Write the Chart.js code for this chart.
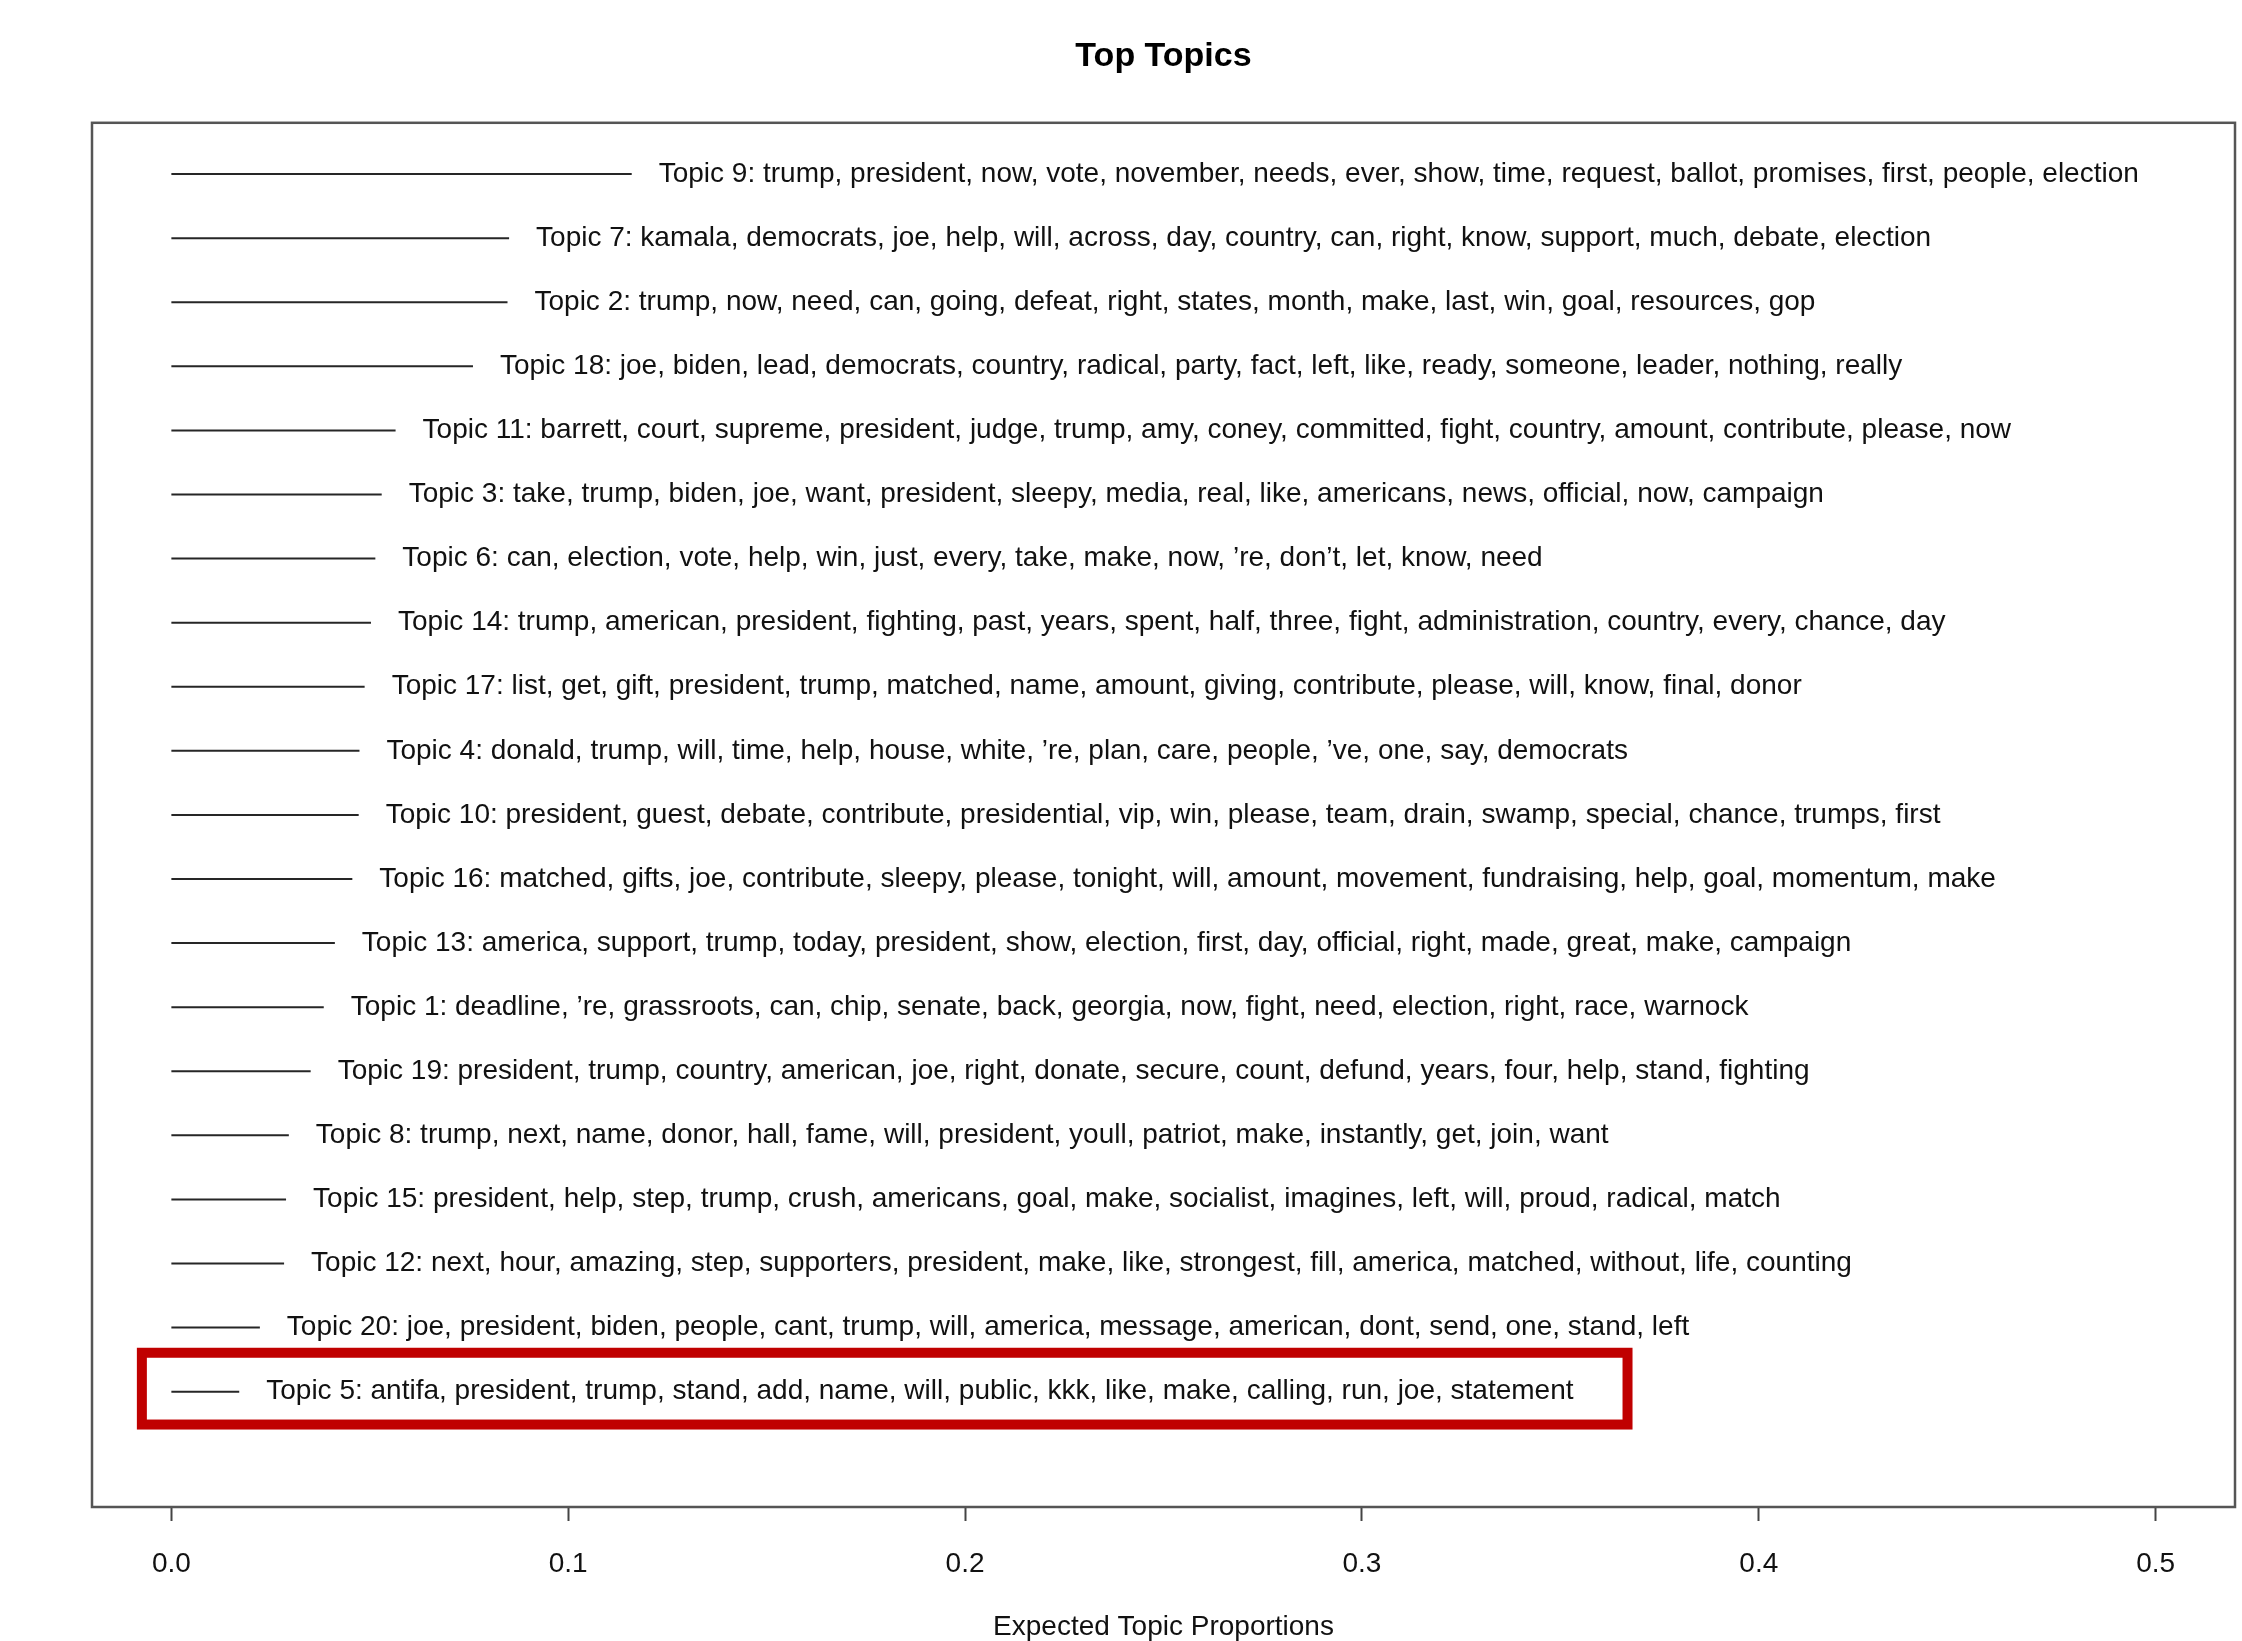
<!DOCTYPE html>
<html>
<head>
<meta charset="utf-8">
<title>Top Topics</title>
<script src="https://cdn.jsdelivr.net/npm/chart.js@4.4.1/dist/chart.umd.min.js"></script>
<style>
  html, body { margin: 0; padding: 0; background: #ffffff; }
  #wrap { width: 2242px; height: 1641px; position: relative; }
</style>
</head>
<body>
<div id="wrap"><canvas id="chart" width="2242" height="1641"></canvas></div>
<script>
// Topics ordered from highest to lowest expected proportion
const topicIds = [9, 7, 2, 18, 11, 3, 6, 14, 17, 4, 10, 16, 13, 1, 19, 8, 15, 12, 20, 5];

const topicWords = [
  "trump, president, now, vote, november, needs, ever, show, time, request, ballot, promises, first, people, election",
  "kamala, democrats, joe, help, will, across, day, country, can, right, know, support, much, debate, election",
  "trump, now, need, can, going, defeat, right, states, month, make, last, win, goal, resources, gop",
  "joe, biden, lead, democrats, country, radical, party, fact, left, like, ready, someone, leader, nothing, really",
  "barrett, court, supreme, president, judge, trump, amy, coney, committed, fight, country, amount, contribute, please, now",
  "take, trump, biden, joe, want, president, sleepy, media, real, like, americans, news, official, now, campaign",
  "can, election, vote, help, win, just, every, take, make, now, \u2019re, don\u2019t, let, know, need",
  "trump, american, president, fighting, past, years, spent, half, three, fight, administration, country, every, chance, day",
  "list, get, gift, president, trump, matched, name, amount, giving, contribute, please, will, know, final, donor",
  "donald, trump, will, time, help, house, white, \u2019re, plan, care, people, \u2019ve, one, say, democrats",
  "president, guest, debate, contribute, presidential, vip, win, please, team, drain, swamp, special, chance, trumps, first",
  "matched, gifts, joe, contribute, sleepy, please, tonight, will, amount, movement, fundraising, help, goal, momentum, make",
  "america, support, trump, today, president, show, election, first, day, official, right, made, great, make, campaign",
  "deadline, \u2019re, grassroots, can, chip, senate, back, georgia, now, fight, need, election, right, race, warnock",
  "president, trump, country, american, joe, right, donate, secure, count, defund, years, four, help, stand, fighting",
  "trump, next, name, donor, hall, fame, will, president, youll, patriot, make, instantly, get, join, want",
  "president, help, step, trump, crush, americans, goal, make, socialist, imagines, left, will, proud, radical, match",
  "next, hour, amazing, step, supporters, president, make, like, strongest, fill, america, matched, without, life, counting",
  "joe, president, biden, people, cant, trump, will, america, message, american, dont, send, one, stand, left",
  "antifa, president, trump, stand, add, name, will, public, kkk, like, make, calling, run, joe, statement"
];

const proportions = [0.1160, 0.0851, 0.0847, 0.0760, 0.0565, 0.0530, 0.0514, 0.0503, 0.0487, 0.0474,
                     0.0472, 0.0456, 0.0412, 0.0384, 0.0351, 0.0296, 0.0289, 0.0284, 0.0223, 0.0171];

const xTicks = [0.0, 0.1, 0.2, 0.3, 0.4, 0.5];
const highlightedTopic = 5;

const FONT = "'Liberation Sans', Arial, Helvetica, sans-serif";
const n = topicIds.length;
// vertical position: first topic at the top (n), last at the bottom (1)
const rowOf = i => n - i;

const datasets = proportions.map((v, i) => ({
  label: 'Topic ' + topicIds[i],
  data: [{ x: 0, y: rowOf(i) }, { x: v, y: rowOf(i) }],
  showLine: true,
  borderColor: '#262626',
  borderWidth: 2,
  pointRadius: 0,
  pointHoverRadius: 0,
  fill: false
}));

// labels to the right of each segment, a box around the plot region, and the highlight frame
const topicLabels = {
  id: 'topicLabels',
  afterDatasetsDraw(chart) {
    const { ctx, chartArea, scales: { x, y } } = chart;
    ctx.save();
    ctx.font = '28px ' + FONT;
    ctx.fillStyle = '#111111';
    ctx.textAlign = 'left';
    ctx.textBaseline = 'middle';
    const gap = 27;
    let hl = null;
    proportions.forEach((v, i) => {
      const px = x.getPixelForValue(v) + gap;
      const py = y.getPixelForValue(rowOf(i));
      const txt = 'Topic ' + topicIds[i] + ': ' + topicWords[i];
      ctx.fillText(txt, px, py);
      if (topicIds[i] === highlightedTopic) {
        hl = { end: px + ctx.measureText(txt).width, py };
      }
    });
    // plot frame
    ctx.strokeStyle = '#555555';
    ctx.lineWidth = 2.5;
    ctx.strokeRect(chartArea.left, chartArea.top, chartArea.right - chartArea.left, chartArea.bottom - chartArea.top);
    // highlight frame
    if (hl) {
      const left = x.getPixelForValue(0) - 29.5;
      const right = hl.end + 54;
      const unit = Math.abs(y.getPixelForValue(1) - y.getPixelForValue(2));
      const half = unit * 0.56;
      ctx.strokeStyle = '#c00000';
      ctx.lineWidth = 10;
      ctx.strokeRect(left, hl.py - half - 3, right - left, 2 * half);
    }
    ctx.restore();
  }
};

new Chart(document.getElementById('chart'), {
  type: 'scatter',
  data: { datasets },
  options: {
    responsive: false,
    animation: false,
    events: [],
    layout: { padding: { left: 92, right: 7, top: 0, bottom: 0 } },
    plugins: {
      legend: { display: false },
      tooltip: { enabled: false },
      title: {
        display: true,
        text: 'Top Topics',
        color: '#000000',
        font: { family: FONT, size: 34, weight: 'bold', lineHeight: 1.2 },
        padding: { top: 36, bottom: 46 }
      }
    },
    scales: {
      x: {
        type: 'linear',
        min: -0.02,
        max: 0.52,
        afterBuildTicks(scale) { scale.ticks = xTicks.map(v => ({ value: v })); },
        afterFit(scale) { scale.height = 134; },
        ticks: {
          color: '#111111',
          font: { family: FONT, size: 28, lineHeight: 1.2 },
          padding: 26,
          maxRotation: 0,
          autoSkip: false,
          callback: v => Number(v).toFixed(1)
        },
        grid: {
          drawOnChartArea: false,
          drawTicks: true,
          tickLength: 14,
          tickWidth: 2,
          tickColor: '#444444'
        },
        border: { display: false },
        title: {
          display: true,
          text: 'Expected Topic Proportions',
          color: '#111111',
          font: { family: FONT, size: 28, lineHeight: 1 },
          padding: { top: 0, bottom: 0 }
        }
      },
      y: {
        type: 'linear',
        display: false,
        min: -0.8,
        max: 20.8
      }
    }
  },
  plugins: [topicLabels]
});
</script>
</body>
</html>
